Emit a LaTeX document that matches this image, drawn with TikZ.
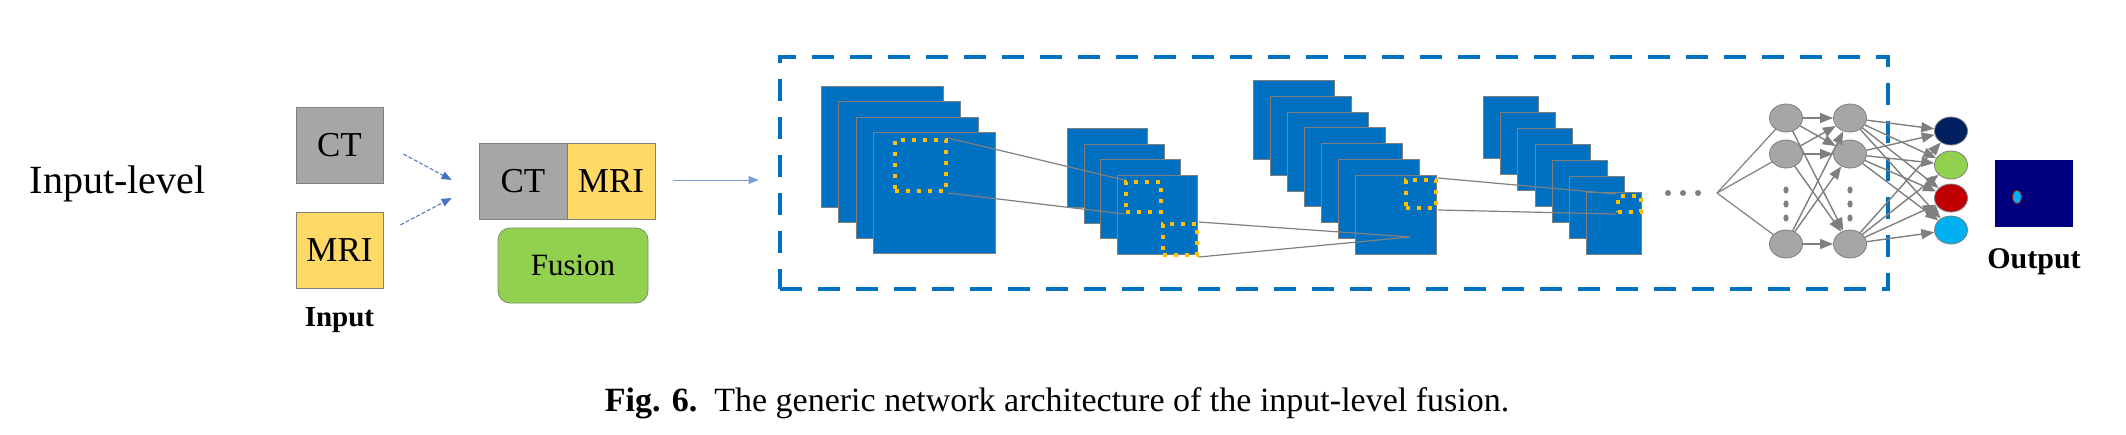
\documentclass[tikz,border=0pt]{standalone}
\usepackage{fontspec}
\setmainfont{Liberation Serif}
\usetikzlibrary{positioning,arrows.meta,shapes.geometric}

\definecolor{ctgray}{HTML}{A6A6A6}
\definecolor{mriyellow}{HTML}{FFD966}
\definecolor{fusegreen}{HTML}{92D050}
\definecolor{fuseedge}{HTML}{7A8F6A}
\definecolor{mapblue}{HTML}{0070C0}
\definecolor{dotyellow}{HTML}{FFC000}
\definecolor{edgegray}{HTML}{7F7F7F}
\definecolor{linkgray}{HTML}{808080}
\definecolor{arrowblue}{HTML}{4472C4}
\definecolor{outnavy}{HTML}{00007F}
\definecolor{clsnavy}{HTML}{002060}
\definecolor{clsgreen}{HTML}{92D050}
\definecolor{clsred}{HTML}{C00000}
\definecolor{clscyan}{HTML}{00B0F0}

\begin{document}
\begin{tikzpicture}[x=0.5pt,y=-0.5pt,
	modal/.style={draw=edgegray,minimum width=43.5pt,minimum height=38pt,inner sep=0pt,font=\fontsize{17.5}{20}\selectfont},
	fmap/.style={draw=edgegray,fill=mapblue,anchor=north west,inner sep=0pt,line width=0.5pt},
	window/.style={draw=dotyellow,line width=2pt,dash pattern=on 2pt off 3.5pt,inner sep=0pt},
	link/.style={linkgray,line width=0.6pt},
	neuron/.style={ellipse,draw=edgegray,fill=ctgray,minimum width=16.5pt,minimum height=14pt,inner sep=0pt},
	feed/.style={-{Triangle[length=6.5pt,width=5pt]},edgegray,line width=0.7pt},
	flow/.style={-{Triangle[length=5pt,width=4pt]},arrowblue,line width=0.5pt}]

	\useasboundingbox (0,0) rectangle (2126,434);

	\node[font=\fontsize{20}{24}\selectfont] (level) at (117.5,184) {Input-level};
	\node[modal,fill=ctgray] (ct) at (339.5,145) {CT};
	\node[modal,fill=mriyellow] (mri) [below of=ct, node distance=52.5pt] {MRI};
	\node[font=\bfseries\fontsize{14.5}{17}\selectfont] (input) [below of=mri, node distance=35pt] {Input};

	\node[modal,fill=ctgray,minimum width=44pt] (ct2) at (523,181) {CT};
	\node[modal,fill=mriyellow,minimum width=44pt] (mri2) [right of=ct2, node distance=44pt] {MRI};
	\node[draw=fuseedge,fill=fusegreen,rounded corners=6pt,minimum width=75pt,minimum height=37.5pt,font=\fontsize{15.5}{18}\selectfont] (fusion) at (573,265.5) {Fusion};
	\path[flow,dash pattern=on 2pt off 1pt] ([shift={(20,9)}]ct.east) edge ([shift={(-27,-1)}]ct2.west);
	\path[flow,dash pattern=on 2pt off 1pt] ([shift={(17,-25)}]mri.east) edge ([shift={(-27,17)}]ct2.west);

	\node[draw=mapblue,line width=2.4pt,dash pattern=on 11pt off 8pt,minimum width=554pt,minimum height=116pt,inner sep=0pt] (net) at (1334,173) {};
	\path[flow,arrowblue!70] ([shift={(18,-1)}]mri2.east) edge ([shift={(-19,7)}]net.west);

	\foreach \i in {0,...,3}
		\node[fmap,minimum width=61pt,minimum height=60.5pt] (conva\i) at ({821+17.3*\i},{86+15.3*\i}) {};
	\foreach \i in {0,...,3}
		\node[fmap,minimum width=40pt,minimum height=39.5pt] (convb\i) at ({1067+16.7*\i},{128+15.7*\i}) {};
	\foreach \i in {0,...,6}
		\node[fmap,minimum width=40.5pt,minimum height=39.5pt] (convc\i) at ({1253+17*\i},{80+15.8*\i}) {};
	\foreach \i in {0,...,6}
		\node[fmap,minimum width=27.5pt,minimum height=31pt] (convd\i) at ({1483+17.2*\i},{96+16*\i}) {};

	\node[window,minimum width=25.5pt,minimum height=25.5pt] (wina) at (920.5,165.5) {};
	\node[window,minimum width=17.5pt,minimum height=15pt] (winb) at (1143.5,197) {};
	\node[window,minimum width=17pt,minimum height=15.5pt] (winc) at (1180,239.5) {};
	\node[window,minimum width=15pt,minimum height=14pt] (wind) at (1421,194) {};
	\node[window,minimum width=11.5pt,minimum height=8pt] (wine) at (1629.5,204) {};
	\coordinate (focus) at (1410,237);
	\path[link] (wina.north east) edge (winb.north west);
	\path[link] (wina.south east) edge (winb.south west);
	\path[link] (winc.north east) edge (focus);
	\path[link] (winc.south east) edge (focus);
	\path[link] (wind.north east) edge (wine.north west);
	\path[link] (wind.south east) edge (wine.south west);

	\foreach \x in {1668,1683,1698}
		\fill[edgegray] (\x,193) circle (1.5pt);

	\coordinate (fan) at (1717,193);
	\foreach \n/\y in {1/118,2/154,3/244} {
		\node[neuron] (hida\n) at (1786,\y) {};
		\node[neuron] (hidb\n) at (1850,\y) {};
	}
	\foreach \y in {190,204,218} {
		\fill[edgegray] (1786,\y) ellipse (1.3pt and 1.8pt);
		\fill[edgegray] (1850,\y) ellipse (1.3pt and 1.8pt);
	}
	\foreach \n/\y/\c in {1/131/clsnavy,2/165/clsgreen,3/198/clsred,4/230/clscyan}
		\node[neuron,fill=\c] (cls\n) at (1951,\y) {};
	\foreach \i in {1,2,3}
		\path[link,edgegray] (fan) edge (hida\i);
	\foreach \i in {1,2,3}
		\foreach \j in {1,2,3}
			\path[feed] (hida\i) edge (hidb\j);
	\foreach \i in {1,2,3}
		\foreach \j in {1,...,4}
			\path[feed] (hidb\i) edge (cls\j);

	\node[fill=outnavy,minimum width=39pt,minimum height=33.5pt,inner sep=0pt] (seg) at (2034,193.5) {};
	\draw[red!70!black,fill=clscyan,line width=0.4pt] (2017,197) ellipse (2.3pt and 3.3pt);
	\node[font=\bfseries\fontsize{15}{18}\selectfont] (output) [below of=seg, node distance=34pt] {Output};

	\node[anchor=base,font=\fontsize{17}{20}\selectfont] (caption) at (1057,411) {\textbf{Fig. 6.}\enspace The generic network architecture of the input-level fusion.};

\end{tikzpicture}
\end{document}
